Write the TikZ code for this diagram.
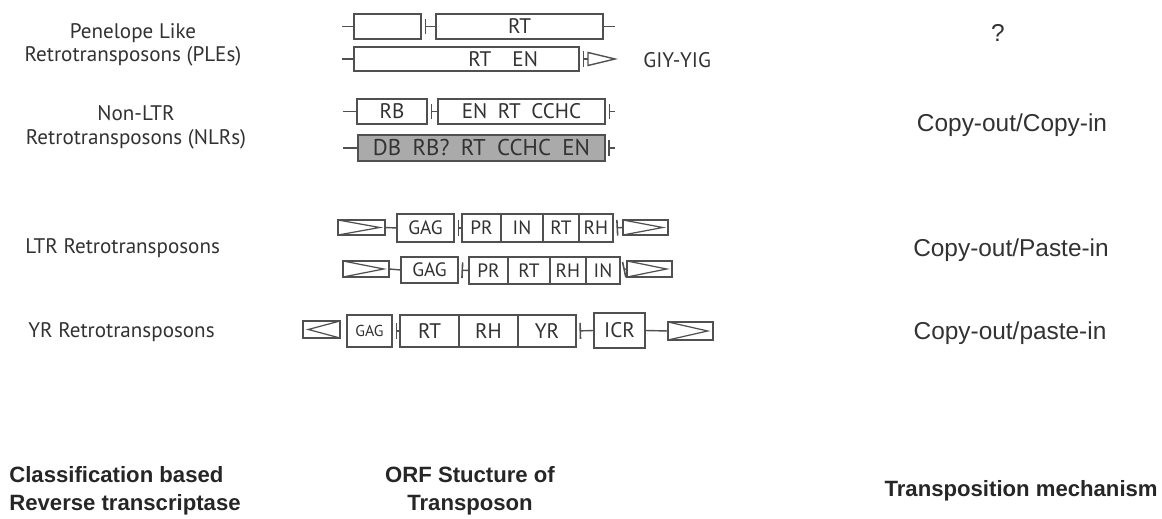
\documentclass[tikz,border=0pt]{standalone}
\usepackage{fontspec}
\setmainfont{Liberation Sans}
\newfontfamily\orffont{PT Sans}
\usetikzlibrary{arrows.meta,positioning,calc}
\definecolor{linegray}{RGB}{80,80,80}
\definecolor{txtgray}{RGB}{50,50,50}
\definecolor{boxgray}{RGB}{170,170,170}

\tikzset{
  orf/.style={draw=linegray, line width=0.8pt, rectangle, inner sep=0pt, outer sep=0pt,
    text=txtgray, font=\orffont\fontsize{12}{12}\selectfont},
  ltrfwd/.style={orf, path picture={\draw[linegray, line width=0.7pt]
    (path picture bounding box.north west) -- ([xshift=-3pt]path picture bounding box.east)
    -- (path picture bounding box.south west);}},
  ltrrev/.style={orf, path picture={\draw[linegray, line width=0.7pt]
    (path picture bounding box.north east) -- ([xshift=3pt]path picture bounding box.west)
    -- (path picture bounding box.south east);}},
  link/.style={draw=linegray, line width=0.8pt},
  ticked/.style={link, {Bar[width=9pt,line width=0.9pt]}-, shorten <=2pt},
  classlbl/.style={align=center, inner sep=0pt, text=txtgray, font=\orffont\fontsize{12}{13.5}\selectfont},
  mechlbl/.style={inner sep=0pt, text=txtgray, font=\fontsize{13.9}{16}\selectfont},
  headlbl/.style={inner sep=0pt, text=black!85, font=\bfseries\fontsize{12.6}{15.9}\selectfont}
}

\begin{document}
\begin{tikzpicture}[x=0.02cm, y=-0.02cm]
  \useasboundingbox (0,0) rectangle (1162,519);
  % Classification column
  \node[classlbl] (ple) at (133,45) {Penelope Like\\Retrotransposons (PLEs)};
  \node[classlbl] (nlr) at (136,127) {Non-LTR\\Retrotransposons (NLRs)};
  \node[classlbl, anchor=west] (ltr) at (25,248) {LTR Retrotransposons};
  \node[classlbl, anchor=west] (yr) at (28,332) {YR Retrotransposons};

  % PLEs
  \coordinate (p1l) at (342,26.5);
  \node[orf, minimum width=1.34cm, minimum height=0.5cm] (p1a) at (387.5,26.5) {};
  \node[orf, minimum width=3.34cm, minimum height=0.5cm] (p1b) at (519.5,26.5) {RT};
  \coordinate (p1r) at (615,26.5);
  \draw[link] (p1l) -- (p1a.west);
  \draw[ticked] (p1a.east) -- (p1b.west);
  \draw[link] (p1b.east) -- (p1r);

  \coordinate (p2l) at (342,59);
  \node[orf, minimum width=4.5cm, minimum height=0.48cm, text width=2.86cm, align=right] (p2) at (466.5,59)
    {RT\enspace\enspace EN};
  \coordinate (p2t) at (588,59);
  \draw[link] (p2l) -- (p2.west);
  \draw[ticked] (p2.east) -- (p2t);
  \draw[link] (p2t) -- ++(0,-6.5) -- ++(27,6.5) -- ++(-27,6.5) -- cycle;
  \node[classlbl, anchor=west] (giy) at (643,60) {GIY-YIG};

  % NLRs
  \coordinate (n1l) at (343,111.5);
  \node[orf, minimum width=1.4cm, minimum height=0.5cm] (n1a) at (392,111.5) {RB};
  \node[orf, minimum width=3.34cm, minimum height=0.5cm] (n1b) at (521.5,111.5) {EN\enspace RT\enspace CCHC};
  \coordinate (n1r) at (615,111.5);
  \draw[link] (n1l) -- (n1a.west);
  \draw[ticked] (n1a.east) -- (n1b.west);
  \draw[ticked] (n1b.east) -- (n1r);

  \coordinate (n2l) at (343,148);
  \node[orf, fill=boxgray, minimum width=4.94cm, minimum height=0.52cm,
    font=\orffont\fontsize{13}{13}\selectfont] (n2) at (481.5,148) {DB\enspace RB?\enspace RT\enspace CCHC\enspace EN};
  \coordinate (n2r) at (615,148);
  \draw[link] (n2l) -- (n2.west);
  \draw[ticked] (n2.east) -- (n2r);

  % LTRs
  \node[ltrfwd, minimum width=0.94cm, minimum height=0.3cm] (l1l) at (361.5,227.5) {};
  \node[orf, minimum width=1.14cm, minimum height=0.56cm, font=\orffont\fontsize{11}{11}\selectfont] (l1g) at (425.5,228) {GAG};
  \node[orf, minimum width=0.78cm, minimum height=0.56cm, font=\orffont\fontsize{11}{11}\selectfont] (l1pr) at (481.5,228) {PR};
  \node[orf, minimum width=0.84cm, minimum height=0.56cm, font=\orffont\fontsize{11}{11}\selectfont, right=0pt of l1pr] (l1in) {IN};
  \node[orf, minimum width=0.72cm, minimum height=0.56cm, font=\orffont\fontsize{11}{11}\selectfont, right=0pt of l1in] (l1rt) {RT};
  \node[orf, minimum width=0.68cm, minimum height=0.56cm, font=\orffont\fontsize{11}{11}\selectfont, right=0pt of l1rt] (l1rh) {RH};
  \node[ltrfwd, minimum width=0.9cm, minimum height=0.3cm] (l1r) at (645.5,227.5) {};
  \draw[link] (l1l.east) -- (l1g.west);
  \draw[ticked] (l1g.east) -- (l1pr.west);
  \draw[ticked] (l1rh.east) -- (l1r.west);

  \node[ltrfwd, minimum width=0.92cm, minimum height=0.32cm] (l2l) at (366,269) {};
  \node[orf, minimum width=1.14cm, minimum height=0.52cm, font=\orffont\fontsize{11}{11}\selectfont] (l2g) at (429.5,270) {GAG};
  \node[orf, minimum width=0.78cm, minimum height=0.54cm, font=\orffont\fontsize{11}{11}\selectfont] (l2pr) at (488.5,270.5) {PR};
  \node[orf, minimum width=0.84cm, minimum height=0.54cm, font=\orffont\fontsize{11}{11}\selectfont, right=0pt of l2pr] (l2rt) {RT};
  \node[orf, minimum width=0.72cm, minimum height=0.54cm, font=\orffont\fontsize{11}{11}\selectfont, right=0pt of l2rt] (l2rh) {RH};
  \node[orf, minimum width=0.68cm, minimum height=0.54cm, font=\orffont\fontsize{11}{11}\selectfont, right=0pt of l2rh] (l2in) {IN};
  \node[ltrfwd, minimum width=0.9cm, minimum height=0.32cm] (l2r) at (649.5,269) {};
  \draw[link] (l2l.east) -- (l2g.west);
  \draw[ticked] (l2g.east) -- (l2pr.west);
  \draw[ticked] (l2in.east) -- (l2r.west);

  % YRs
  \node[ltrrev, minimum width=0.74cm, minimum height=0.34cm] (y1l) at (321.5,329.5) {};
  \node[orf, minimum width=0.9cm, minimum height=0.64cm, font=\orffont\fontsize{9}{9}\selectfont] (y1g) at (369.5,331) {GAG};
  \node[orf, minimum width=1.18cm, minimum height=0.64cm] (y1rt) at (429.5,331) {RT};
  \node[orf, minimum width=1.18cm, minimum height=0.64cm, right=0pt of y1rt] (y1rh) {RH};
  \node[orf, minimum width=1.16cm, minimum height=0.64cm, right=0pt of y1rh] (y1yr) {YR};
  \node[orf, minimum width=1.02cm, minimum height=0.7cm] (y1icr) at (619.5,330.5) {ICR};
  \node[ltrfwd, minimum width=0.9cm, minimum height=0.36cm] (y1r) at (690.5,331) {};
  \draw[ticked] (y1g.east) -- (y1rt.west);
  \draw[ticked] (y1yr.east) -- (y1icr.west);
  \draw[link] (y1icr.east) -- (y1r.west);

  % Mechanism column
  \node[mechlbl] (m1) at (998,33) {?};
  \node[mechlbl] (m2) at (1012,125) {Copy-out/Copy-in};
  \node[mechlbl] (m3) at (1011,250) {Copy-out/Paste-in};
  \node[mechlbl] (m4) at (1010,333) {Copy-out/paste-in};

  % Column headings
  \node[headlbl, anchor=west, align=left] (h1) at (9,491) {Classification based\\Reverse transcriptase};
  \node[headlbl, align=center] (h2) at (470,491) {ORF Stucture of\\Transposon};
  \node[headlbl, anchor=east] (h3) at (1158,491) {Transposition mechanism};
\end{tikzpicture}
\end{document}
